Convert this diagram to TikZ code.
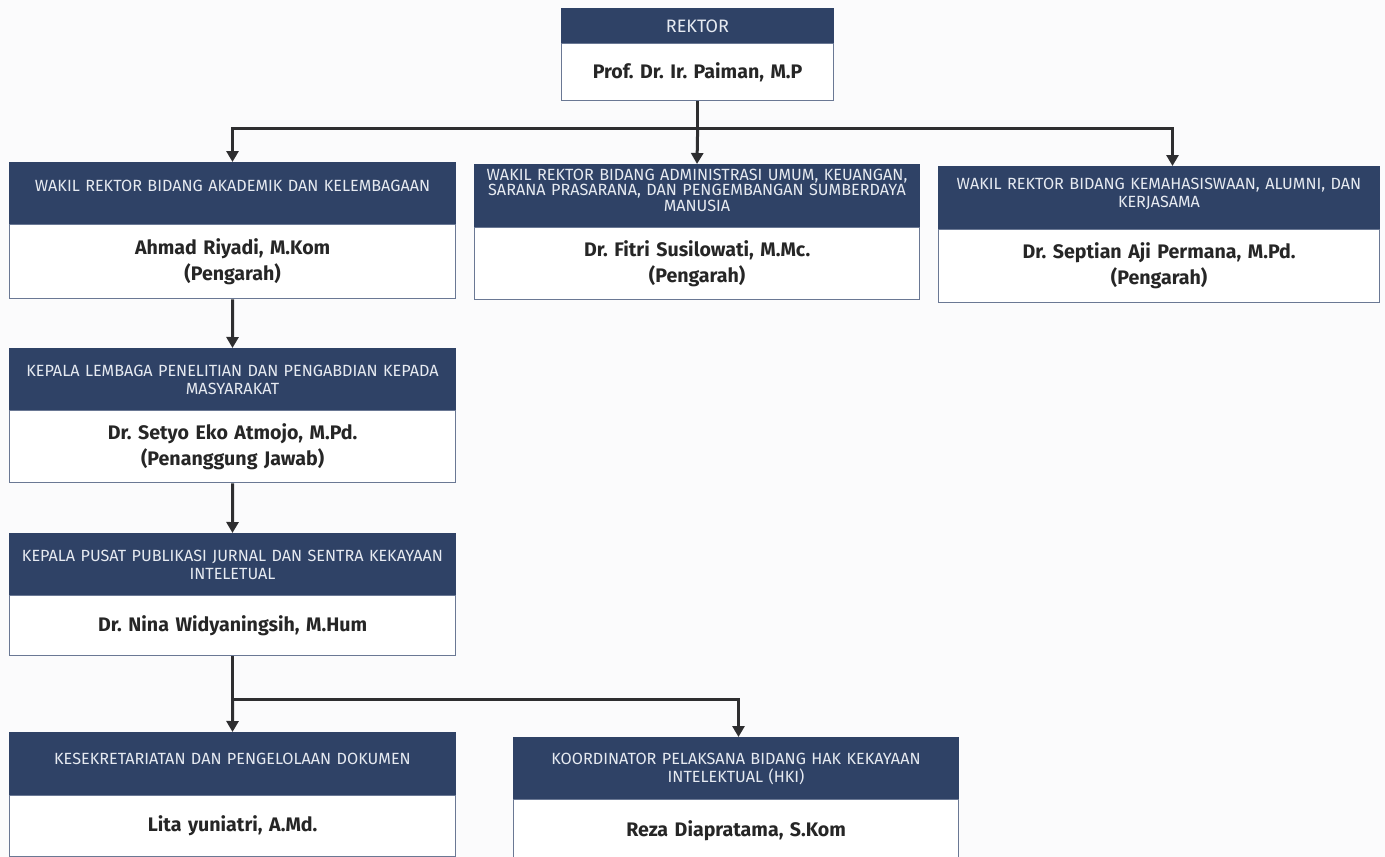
\documentclass[tikz,border=0pt]{standalone}
\usepackage{fontspec}
\setmainfont{Fira Sans}
\usetikzlibrary{arrows.meta,calc}
\definecolor{navy}{HTML}{2F4266}
\definecolor{edge}{HTML}{6A7894}
\definecolor{hdrtxt}{HTML}{E6EAF1}
\definecolor{wire}{HTML}{2E2E30}
\definecolor{paper}{HTML}{FBFBFC}
\tikzset{
  hdr/.style={rectangle, fill=navy, draw=navy, line width=1pt, anchor=north west,
    text=hdrtxt, align=center, inner sep=0pt,
    font=\fontsize{16.2}{18}\selectfont},
  body/.style={rectangle, fill=white, draw=edge, line width=1.3pt, anchor=north west,
    text=black!85, align=center, inner sep=0pt,
    font=\fontsize{19.6}{26}\selectfont\bfseries},
  wireline/.style={draw=wire, line width=3pt},
  arr/.style={draw=wire, line width=3pt, -{Triangle[length=11pt,width=12pt]}},
}
\begin{document}
\frenchspacing
\begin{tikzpicture}[x=1pt,y=-1pt]
\fill[paper] (0,0) rectangle (1385,857);
\useasboundingbox (0,0) rectangle (1385,857);
\clip (0,0) rectangle (1385,857);
% REKTOR
\node[hdr, minimum width=272pt, minimum height=35pt, text width=260pt, font=\fontsize{18}{20}\selectfont] (hR) at (561,8) {REKTOR};
\node[body, minimum width=272pt, minimum height=57pt, text width=260pt] (bR) at (561,43) {Prof. Dr. Ir. Paiman, M.P};
% Row 2
\node[hdr, minimum width=446pt, minimum height=62pt, text width=436pt, text depth=16pt] (hA) at (9,162) {WAKIL REKTOR BIDANG AKADEMIK DAN KELEMBAGAAN};
\node[body, minimum width=446pt, minimum height=74pt, text width=430pt] (bA) at (9,224) {Ahmad Riyadi, M.Kom\\(Pengarah)};
\node[hdr, minimum width=445pt, minimum height=63pt, text width=440pt, text depth=43pt, font=\fontsize{16.2}{15.5}\selectfont] (hB) at (474,164) {WAKIL REKTOR BIDANG ADMINISTRASI UMUM, KEUANGAN,\\SARANA PRASARANA, DAN PENGEMBANGAN SUMBERDAYA\\MANUSIA};
\node[body, minimum width=445pt, minimum height=72pt, text width=430pt] (bB) at (474,227) {Dr. Fitri Susilowati, M.Mc.\\(Pengarah)};
\node[hdr, minimum width=441pt, minimum height=63pt, text width=435pt, text depth=29pt] (hC) at (938,166) {WAKIL REKTOR BIDANG KEMAHASISWAAN, ALUMNI, DAN\\KERJASAMA};
\node[body, minimum width=441pt, minimum height=73pt, text width=425pt] (bC) at (938,229) {Dr. Septian Aji Permana, M.Pd.\\(Pengarah)};
% Column
\node[hdr, minimum width=446pt, minimum height=62pt, text width=436pt] (hD) at (9,348) {KEPALA LEMBAGA PENELITIAN DAN PENGABDIAN KEPADA\\MASYARAKAT};
\node[body, minimum width=446pt, minimum height=72pt, text width=430pt] (bD) at (9,410) {Dr. Setyo Eko Atmojo, M.Pd.\\(Penanggung Jawab)};
\node[hdr, minimum width=446pt, minimum height=62pt, text width=436pt] (hE) at (9,533) {KEPALA PUSAT PUBLIKASI JURNAL DAN SENTRA KEKAYAAN\\INTELETUAL};
\node[body, minimum width=446pt, minimum height=60pt, text width=430pt] (bE) at (9,595) {Dr. Nina Widyaningsih, M.Hum};
% Bottom row
\node[hdr, minimum width=446pt, minimum height=63pt, text width=436pt, text depth=10pt] (hF) at (9,732) {KESEKRETARIATAN DAN PENGELOLAAN DOKUMEN};
\node[body, minimum width=446pt, minimum height=61pt, text width=430pt] (bF) at (9,795) {Lita yuniatri, A.Md.};
\node[hdr, minimum width=445pt, minimum height=62pt, text width=436pt] (hG) at (513,737) {KOORDINATOR PELAKSANA BIDANG HAK KEKAYAAN\\INTELEKTUAL (HKI)};
\node[body, minimum width=445pt, minimum height=62pt, text width=430pt] (bG) at (513,799) {Reza Diapratama, S.Kom};
% connectors
\coordinate (j1) at (bR.south |- 0,128);
\coordinate (tC) at ($(hC.north)+(13.5,0)$);
\draw[wireline] (bR.south) -- (j1);
\draw[arr] (j1) -| (hA.north);
\draw[arr] (j1) -- (hB.north);
\draw[arr] (j1) -| (tC);
\draw[arr] (bA.south) -- (hD.north);
\draw[arr] (bD.south) -- (hE.north);
\coordinate (j2) at (bE.south |- 0,699);
\coordinate (tG) at ($(hG.north)+(2.5,0)$);
\draw[wireline] (bE.south) -- (j2);
\draw[arr] (j2) -- (hF.north);
\draw[arr] (j2) -| (tG);
\end{tikzpicture}
\end{document}
